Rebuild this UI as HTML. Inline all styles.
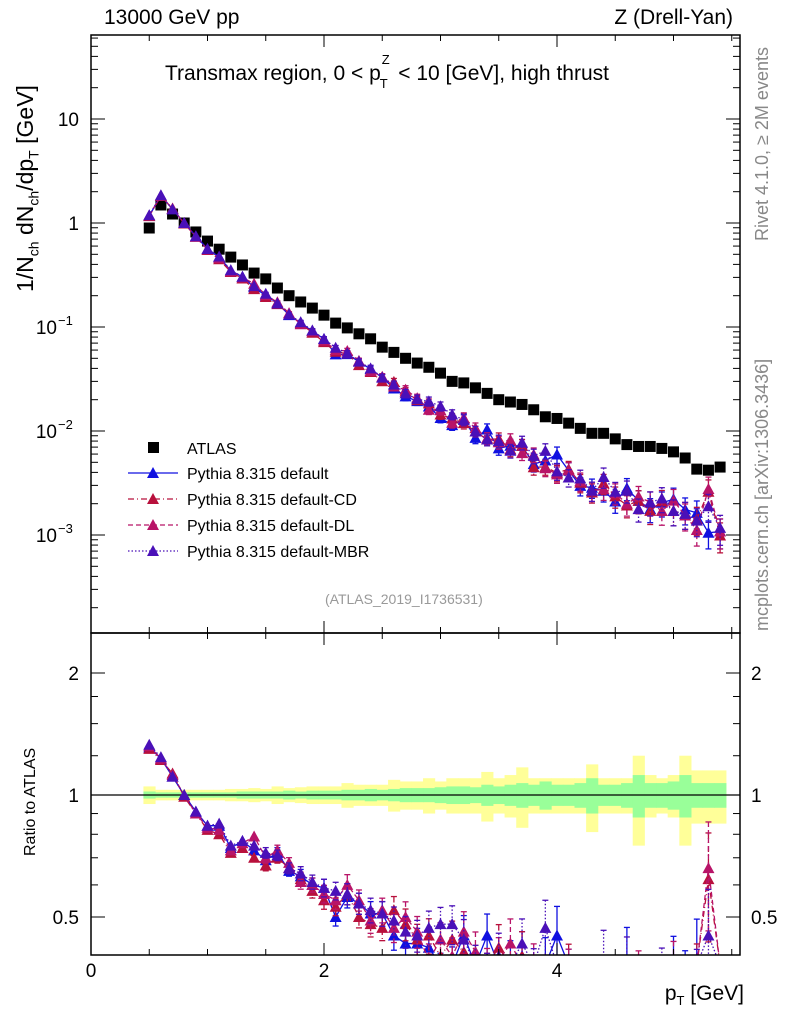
<!DOCTYPE html>
<html><head><meta charset="utf-8"><style>
html,body{margin:0;background:#fff;width:786px;height:1024px;overflow:hidden;position:relative;}
svg{display:block;font-family:"Liberation Sans Narrow","Liberation Sans",sans-serif;}
</style></head><body>
<svg id="c" width="786" height="1024" xmlns="http://www.w3.org/2000/svg" style="position:absolute;left:0;top:0;overflow:hidden"></svg>
<script>
const xs=[0.5,0.6,0.7,0.8,0.9,1.0,1.1,1.2,1.3,1.4,1.5,1.6,1.7,1.8,1.9,2.0,2.1,2.2,2.3,2.4,2.5,2.6,2.7,2.8,2.9,3.0,3.1,3.2,3.3,3.4,3.5,3.6,3.7,3.8,3.9,4.0,4.1,4.2,4.3,4.4,4.5,4.6,4.7,4.8,4.9,5.0,5.1,5.2,5.3,5.4];
const atlas=[0.895,1.49,1.22,1.0,0.82,0.67,0.56,0.47,0.395,0.33,0.29,0.237,0.2,0.174,0.152,0.13,0.109,0.098,0.086,0.077,0.064,0.057,0.05,0.045,0.041,0.036,0.030,0.029,0.026,0.023,0.020,0.019,0.018,0.016,0.0137,0.0132,0.0119,0.0106,0.0095,0.0095,0.0084,0.0074,0.0071,0.0071,0.0068,0.0063,0.0055,0.0043,0.0042,0.0045];
const ratioDefault=[1.31,1.23,1.11,1.0,0.91,0.84,0.84,0.74,0.77,0.73,0.69,0.72,0.65,0.63,0.60,0.59,0.50,0.56,0.54,0.51,0.51,0.45,0.43,0.43,0.42,0.37,0.38,0.45,0.33,0.45,0.34,0.38,0.40,0.30,0.38,0.45,0.35,0.28,0.30,0.28,0.25,0.38,0.30,0.25,0.30,0.35,0.32,0.38,0.25,0.24];
const ratioCD=[1.30,1.22,1.13,0.99,0.90,0.82,0.80,0.72,0.74,0.70,0.67,0.70,0.66,0.62,0.58,0.55,0.53,0.57,0.50,0.48,0.47,0.52,0.48,0.44,0.45,0.40,0.44,0.41,0.38,0.36,0.42,0.35,0.40,0.28,0.33,0.30,0.36,0.30,0.27,0.33,0.28,0.26,0.30,0.24,0.31,0.27,0.29,0.33,0.62,0.22];
const ratioDL=[1.32,1.23,1.12,1.0,0.90,0.83,0.82,0.73,0.76,0.79,0.70,0.73,0.68,0.61,0.60,0.57,0.55,0.60,0.55,0.49,0.52,0.47,0.50,0.46,0.39,0.44,0.40,0.46,0.41,0.37,0.39,0.43,0.34,0.37,0.32,0.29,0.35,0.31,0.28,0.29,0.30,0.27,0.33,0.29,0.25,0.34,0.28,0.26,0.66,0.24];
const ratioMBR=[1.33,1.24,1.11,1.0,0.91,0.84,0.85,0.75,0.77,0.75,0.72,0.71,0.66,0.64,0.61,0.59,0.58,0.57,0.54,0.52,0.51,0.49,0.46,0.45,0.47,0.48,0.48,0.44,0.38,0.36,0.40,0.34,0.43,0.36,0.47,0.31,0.30,0.33,0.28,0.38,0.31,0.36,0.25,0.29,0.33,0.27,0.29,0.32,0.45,0.26];
const mcRelErr=[0.01,0.01,0.01,0.01,0.01,0.01,0.02,0.02,0.02,0.02,0.03,0.03,0.03,0.04,0.04,0.05,0.05,0.06,0.06,0.07,0.07,0.08,0.09,0.09,0.1,0.1,0.11,0.12,0.12,0.13,0.14,0.15,0.15,0.16,0.17,0.18,0.19,0.2,0.21,0.22,0.23,0.24,0.25,0.26,0.27,0.28,0.29,0.3,0.3,0.32];
const statBand=[0.02,0.015,0.015,0.015,0.015,0.015,0.015,0.015,0.02,0.02,0.02,0.02,0.025,0.02,0.025,0.025,0.025,0.03,0.03,0.035,0.03,0.035,0.04,0.04,0.04,0.045,0.05,0.05,0.045,0.06,0.05,0.06,0.07,0.06,0.08,0.06,0.06,0.07,0.10,0.06,0.06,0.07,0.12,0.07,0.07,0.08,0.12,0.07,0.07,0.07];
const totBand=[0.05,0.03,0.03,0.03,0.03,0.03,0.03,0.035,0.035,0.04,0.035,0.05,0.04,0.045,0.05,0.05,0.05,0.07,0.06,0.06,0.06,0.09,0.08,0.08,0.1,0.08,0.1,0.1,0.1,0.14,0.1,0.12,0.17,0.1,0.1,0.1,0.1,0.1,0.19,0.1,0.1,0.1,0.25,0.12,0.1,0.12,0.25,0.15,0.15,0.15];
const mainYTicks=[10,1,0.1,0.01,0.001];
const mainYLabels=["10","1","10","10","10"];
const mainYExp=["","","−1","−2","−3"];
const ratioTicks=[2,1,0.5];
const ratioLabels=["2","1","0.5"];
const xTicks=[0,2,4];
const xLabels=["0","2","4"];

const NS="http://www.w3.org/2000/svg";
const svg=document.getElementById('c');
function el(tag,attrs,parent){const e=document.createElementNS(NS,tag);for(const k in attrs)e.setAttribute(k,attrs[k]);(parent||svg).appendChild(e);return e;}
const L=91,R=740,T=35,MB=633,RB=955;
const X=v=>L+v*116.5;
const clamp=(y,a,b)=>Math.max(a,Math.min(b,y));
const Ym=v=>clamp(223-104*Math.log10(Math.max(v,1e-6)),T-10,MB+10);
const Yr=v=>clamp(795-122*Math.log2(Math.max(v,1e-3)),MB-10,RB+10);

const defs=el('defs',{});
const c1=el('clipPath',{id:'cm'},defs);el('rect',{x:L,y:T,width:R-L,height:MB-T},c1);
const c2=el('clipPath',{id:'cr'},defs);el('rect',{x:L,y:MB,width:R-L,height:RB-MB},c2);

const gb=el('g',{'clip-path':'url(#cr)'});

xs.forEach((x,i)=>{
  const r=el('rect',{x:X(x-0.05),y:Yr(1+totBand[i]),width:X(0.1)-L+0.5,height:Yr(1-totBand[i])-Yr(1+totBand[i]),fill:'#ffff99'},gb);
  
  
});
xs.forEach((x,i)=>{
  const r=el('rect',{x:X(x-0.05),y:Yr(1+statBand[i]),width:X(0.1)-L+0.5,height:Yr(1-statBand[i])-Yr(1+statBand[i]),fill:'#99ff99'},gb);
  
  
});
el('line',{x1:L,x2:R,y1:Yr(1),y2:Yr(1),stroke:'#000','stroke-width':1.3},gb);

const series=[
 {name:'default',ratio:ratioDefault,color:'#1010e0',dash:'',lbl:'Pythia 8.315 default'},
 {name:'default-cd',ratio:ratioCD,color:'#b8103c',dash:'6,3,1,3',lbl:'Pythia 8.315 default-CD'},
 {name:'default-dl',ratio:ratioDL,color:'#b81468',dash:'5,3',lbl:'Pythia 8.315 default-DL'},
 {name:'default-mbr',ratio:ratioMBR,color:'#4a10b8',dash:'1.5,2',lbl:'Pythia 8.315 default-MBR'}
];
function tri(g,cx,cy,col){return el('polygon',{points:`${cx-6},${cy+5} ${cx+6},${cy+5} ${cx},${cy-6}`,fill:col},g);}

function drawSeries(clip,Y,valFn,isMain){
  series.forEach(s=>{
    const g=el('g',{'clip-path':`url(#${clip})`});
    
    
    const pts=xs.map((x,i)=>[X(x),Y(valFn(s,i))]);
    el('polyline',{points:pts.map(p=>p.join(',')).join(' '),fill:'none',stroke:s.color,'stroke-width':1.3,'stroke-dasharray':s.dash},g);
    xs.forEach((x,i)=>{
      const v=valFn(s,i),e=mcRelErr[i];
      if(e>0.02){
        el('line',{x1:X(x),x2:X(x),y1:Y(v*(1+e)),y2:Y(v*(1-e)),stroke:s.color,'stroke-width':1.3,'stroke-dasharray':s.dash},g);
        el('line',{x1:X(x)-3,x2:X(x)+3,y1:Y(v*(1+e)),y2:Y(v*(1+e)),stroke:s.color,'stroke-width':1.3},g);
        el('line',{x1:X(x)-3,x2:X(x)+3,y1:Y(v*(1-e)),y2:Y(v*(1-e)),stroke:s.color,'stroke-width':1.3},g);
      }
      const t=tri(g,X(x),Y(v),s.color);
      
      
    });
  });
}
const ga=el('g',{'clip-path':'url(#cm)'});

xs.forEach((x,i)=>{
  const r=el('rect',{x:X(x)-5.5,y:Ym(atlas[i])-5.5,width:11,height:11,fill:'#000'},ga);
  
  
});
drawSeries('cm',Ym,(s,i)=>s.ratio[i]*atlas[i],true);
drawSeries('cr',Yr,(s,i)=>s.ratio[i],false);

el('rect',{x:L,y:T,width:R-L,height:MB-T,fill:'none',stroke:'#000','stroke-width':1.5});
el('rect',{x:L,y:MB,width:R-L,height:RB-MB,fill:'none',stroke:'#000','stroke-width':1.5});

for(let v=0;v<=5.5;v+=0.5){
  const maj=Math.abs(v%2)<1e-9, len=maj?12:6;
  [[T,1],[MB,-1],[MB,1],[RB,-1]].forEach(([y,d])=>el('line',{x1:X(v),x2:X(v),y1:y,y2:y+d*len,stroke:'#000','stroke-width':1}));
}
xTicks.forEach((v,i)=>{const t=el('text',{x:X(v),y:977,'font-size':19,'text-anchor':'middle'});t.textContent=xLabels[i];
});

for(let d=-4;d<=1;d++){for(let m=1;m<=9;m++){const v=m*Math.pow(10,d);const y=223-104*Math.log10(v);if(y<T||y>MB)continue;
 const len=m==1?14:7;el('line',{x1:L,x2:L+len,y1:y,y2:y,stroke:'#000'});el('line',{x1:R,x2:R-len,y1:y,y2:y,stroke:'#000'});}}
mainYTicks.forEach((v,i)=>{
  const t=el('text',{x:mainYExp[i]?57:79,y:Ym(v)+7,'font-size':19,'text-anchor':'end'});t.textContent=mainYLabels[i];
  
  if(mainYExp[i]){const e=el('text',{x:58,y:Ym(v)-2,'font-size':13});e.textContent=mainYExp[i];}
});
[0.5,0.6,0.7,0.8,0.9,1,1.25,1.5,1.75,2].forEach(v=>{const y=Yr(v);const len=(v==1||v==2||v==0.5)?14:7;
 el('line',{x1:L,x2:L+len,y1:y,y2:y,stroke:'#000'});el('line',{x1:R,x2:R-len,y1:y,y2:y,stroke:'#000'});});
ratioTicks.forEach((v,i)=>{
  const t=el('text',{x:79,y:Yr(v)+7,'font-size':19,'text-anchor':'end'});t.textContent=ratioLabels[i];
  
  const t2=el('text',{x:751,y:Yr(v)+7,'font-size':19});t2.textContent=ratioLabels[i];
  
});

const lg=el('g',{});
el('rect',{x:148,y:442,width:11,height:11,fill:'#000'},lg);
let lt=el('text',{x:187,y:454,'font-size':16},lg);lt.textContent='ATLAS';
series.forEach((s,i)=>{const y=473+26*i;
 el('line',{x1:128,x2:178,y1:y,y2:y,stroke:s.color,'stroke-width':1.3,'stroke-dasharray':s.dash},lg);
 tri(lg,153,y,s.color);
 const t=el('text',{x:187,y:y+6,'font-size':16},lg);t.textContent=s.lbl;
 });
</script>
<div style="position:absolute;left:0;top:0;width:786px;height:1024px;overflow:hidden;pointer-events:none;font-family:'Liberation Sans Narrow','Liberation Sans',sans-serif;">
<div style="position:absolute;left:104px;top:6px;font-size:21px;">13000 GeV pp</div>
<div style="position:absolute;right:53px;top:6px;font-size:21px;">Z (Drell-Yan)</div>
<div style="position:absolute;left:165px;top:62px;font-size:21px;white-space:nowrap;">Transmax region, 0 &lt; p<span style="position:relative;"><sub style="font-size:13px;position:absolute;left:-1px;top:14px;">T</sub><sup style="font-size:13px;position:absolute;left:1px;top:-10px;">Z</sup></span>&nbsp;&nbsp; &lt; 10 [GeV], high thrust</div>
<div style="position:absolute;left:12px;top:292px;transform-origin:0 0;transform:rotate(-90deg);font-size:23px;white-space:nowrap;">1/N<sub style="font-size:14px">ch</sub> dN<sub style="font-size:14px">ch</sub>/dp<sub style="font-size:14px">T</sub> [GeV]</div>
<div style="position:absolute;left:22px;top:856px;transform-origin:0 0;transform:rotate(-90deg);font-size:16px;white-space:nowrap;">Ratio to ATLAS</div>
<div style="position:absolute;left:752px;top:241px;transform-origin:0 0;transform:rotate(-90deg);font-size:18px;color:#888;white-space:nowrap;">Rivet 4.1.0, ≥ 2M events</div>
<div style="position:absolute;left:752px;top:631px;transform-origin:0 0;transform:rotate(-90deg);font-size:18px;color:#888;white-space:nowrap;">mcplots.cern.ch [arXiv:1306.3436]</div>
<div style="position:absolute;left:325px;top:591px;font-size:14px;color:#999;">(ATLAS_2019_I1736531)</div>
<div style="position:absolute;right:42px;top:982px;font-size:21px;">p<sub style="font-size:13px">T</sub> [GeV]</div>
</div>
</body></html>
